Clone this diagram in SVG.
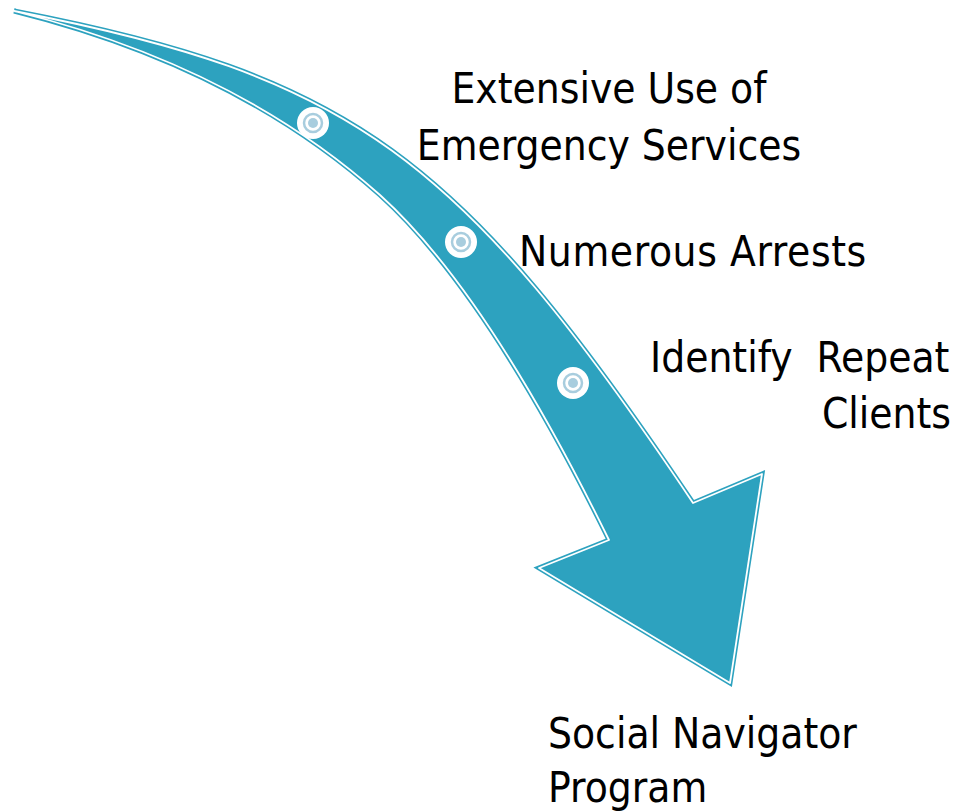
<svg xmlns="http://www.w3.org/2000/svg" width="959" height="811" viewBox="0 0 959 811">
<style>
.lbl{font-family:"DejaVu Sans Condensed","DejaVu Sans",sans-serif;font-stretch:condensed;font-size:42px;fill:#000;white-space:pre}
.dot-bg{fill:#fff}
.dot-ring{fill:none;stroke:#A8CDDE;stroke-width:2.5}
.dot-core{fill:#A8CDDE}
</style>
<defs>
<path id="arrowShape" d="M14,11 C350,76 459,154 693,503 L762,474 L730,683 L539,568 L609,540 C528,375 452,260 380,195 C285,110 163,48 14,11 Z"/>
</defs>
<g id="connectors">
<use href="#arrowShape" fill="#2DA2BF" stroke="#2DA2BF" stroke-width="5" stroke-linejoin="miter"/>
<use href="#arrowShape" fill="none" stroke="#fff" stroke-width="1.8" stroke-linejoin="round"/>
</g>
<g id="bullet1">
<circle class="dot-bg" cx="313" cy="123" r="16"/>
<circle class="dot-ring" cx="313" cy="123" r="9"/>
<circle class="dot-core" cx="313" cy="123" r="5"/>
</g>
<g id="bullet2">
<circle class="dot-bg" cx="461" cy="242" r="16"/>
<circle class="dot-ring" cx="461" cy="242" r="9"/>
<circle class="dot-core" cx="461" cy="242" r="5"/>
</g>
<g id="bullet3">
<circle class="dot-bg" cx="573" cy="383" r="16"/>
<circle class="dot-ring" cx="573" cy="383" r="9"/>
<circle class="dot-core" cx="573" cy="383" r="5"/>
</g>
<g id="node-emergency">
<text class="lbl" x="609" y="103" text-anchor="middle">Extensive Use of</text>
<text class="lbl" x="609" y="160" text-anchor="middle">Emergency Services</text>
</g>
<g id="node-arrests">
<text class="lbl" x="519" y="266" letter-spacing="0.6">Numerous Arrests</text>
</g>
<g id="node-identify">
<text class="lbl" x="650" y="372">Identify  Repeat</text>
<text class="lbl" x="951" y="428" text-anchor="end">Clients</text>
</g>
<g id="node-program">
<text class="lbl" x="548" y="748">Social Navigator</text>
<text class="lbl" x="548" y="802">Program</text>
</g>
</svg>
